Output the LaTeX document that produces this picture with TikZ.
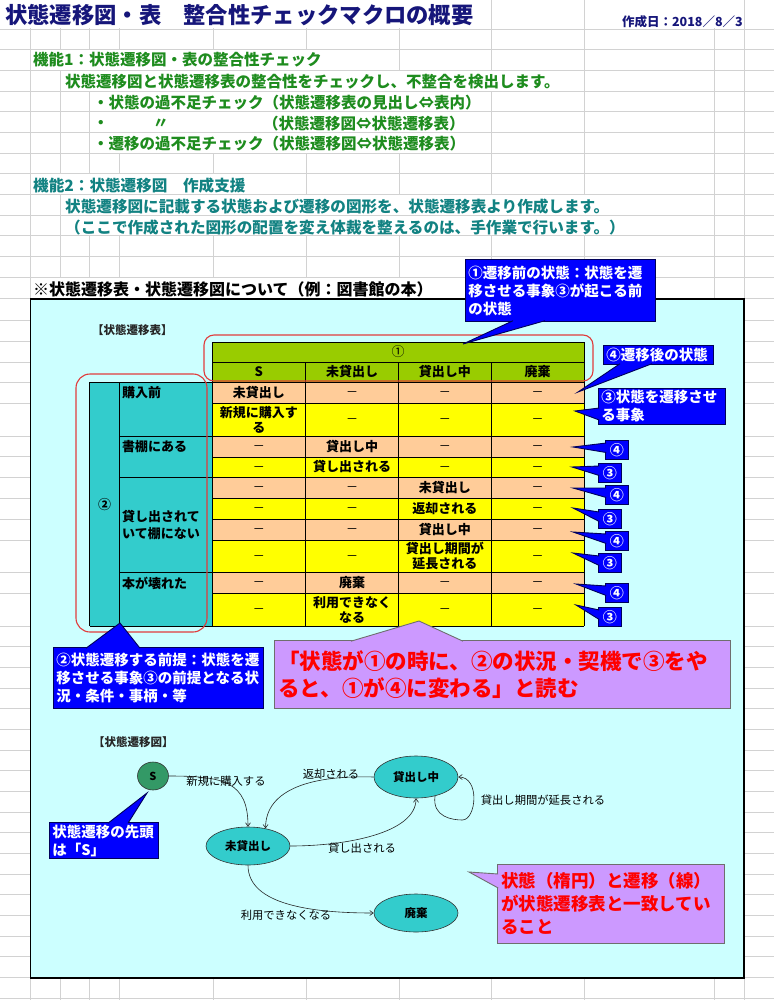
\documentclass[tikz,border=0pt]{standalone}
\usepackage{fontspec}
\setmainfont{Noto Sans CJK JP}
\usetikzlibrary{arrows.meta,calc,shapes.geometric}
\definecolor{gridc}{HTML}{D2D2D2}
\definecolor{titleblue}{HTML}{16167A}
\definecolor{fgreen}{HTML}{1E8C1E}
\definecolor{fteal}{HTML}{128282}
\definecolor{panel}{HTML}{CCFFFF}
\definecolor{hgreen}{HTML}{99CC00}
\definecolor{tteal}{HTML}{33CCCC}
\definecolor{salmon}{HTML}{FFCC99}
\definecolor{cyel}{HTML}{FFFF00}
\definecolor{cblue}{HTML}{0000FF}
\definecolor{cnavy}{HTML}{00005A}
\definecolor{cpurple}{HTML}{CC99FF}
\definecolor{pborder}{HTML}{6E6E6E}
\definecolor{cred}{HTML}{FF0000}
\definecolor{sgreen}{HTML}{339966}
\definecolor{rrect}{HTML}{E03C3C}
\newcommand{\fsz}[2]{\fontsize{#1}{#2}\selectfont}
\begin{document}
\begin{tikzpicture}[x=1pt,y=-1pt,
 gline/.style={draw=gridc,line width=0.9pt},
 gtxt/.style={anchor=west,inner sep=0pt,text=fgreen,font=\bfseries\fsz{15.5}{18}},
 ttxt/.style={anchor=west,inner sep=0pt,text=fteal,font=\bfseries\fsz{15.6}{18}},
 cell/.style={inner sep=0pt,align=center,font=\bfseries\fsz{13}{15}},
 dashc/.style={inner sep=0pt,anchor=base,yshift=-4.3pt,font=\fsz{12}{14}},
 lab/.style={anchor=west,inner sep=0pt,align=left,font=\bfseries\fsz{13}{17}},
 tline/.style={draw=black,line width=0.8pt},
 bco/.style={anchor=north west,fill=cblue,draw=cnavy,line width=0.9pt,text=white,font=\bfseries\fsz{14.5}{18},inner xsep=3pt,inner ysep=1pt,align=left},
 bsm/.style={anchor=north west,fill=cblue,draw=cnavy,line width=0.9pt,text=white,font=\bfseries\fsz{14}{16},inner sep=0pt,minimum width=23pt,minimum height=19pt,align=center},
 bptr/.style={fill=cblue,draw=cnavy,line width=0.9pt},
 pco/.style={anchor=north west,fill=cpurple,draw=pborder,line width=0.9pt,text=cred,align=left,inner sep=4pt},
 pptr/.style={fill=cpurple,draw=pborder,line width=0.9pt},
 state/.style={ellipse,draw=black!80,line width=0.6pt,fill=tteal,minimum width=84pt,minimum height=40pt,inner sep=0pt,font=\bfseries\fsz{11.5}{13}},
 elbl/.style={inner sep=0pt,font=\fsz{11.3}{13}},
 arr/.style={draw=black!85,line width=0.6pt,-{Straight Barb[length=3.5pt,width=5pt]}},
 rbox/.style={draw=rrect,line width=1.1pt},
 seclbl/.style={anchor=west,inner sep=0pt,text=black!85,font=\bfseries\fsz{11.5}{13}}
]
\useasboundingbox (0,0) rectangle (774,1000);
\fill[white] (0,0) rectangle (774,1000);

% ---------- spreadsheet grid ----------
\foreach \x in {30.5,60.2,89.8,119.4,213,306,399,491.5,584.5,714.5,744}
  \draw[gline] (\x,0) -- (\x,1000);
\foreach \y in {29,49.7,70.4,91.1,111.8,132.5,153.1,173.8,194.5,215.2,235.9,256.6,277.3,298,
  320,341,362,382.5,403,436,456.7,477.3,498,519,540,572.3,593,626,646.5,667,688,708.5,729,
  750,770.5,791,812,832.5,853,874,894.5,915,936,956.5,977.5,998}
  \draw[gline] (0,\y) -- (774,\y);
% text overflowing cells hides the grid lines beneath it
\foreach \xa/\xb/\ya/\yb in {0/491/0/28.5, 585/743.5/0/28.5, 31/398.5/50.2/69.9,
  60.7/584/70.9/90.6, 90.3/491/91.6/111.3, 90.3/491/112.3/132, 90.3/491/133/152.6,
  31/305.5/174.3/194, 60.7/714/195/214.7, 60.7/714/215.7/235.4, 31/491/277.8/297.5}
  \fill[white] (\xa,\ya) rectangle (\xb,\yb);

% ---------- header texts ----------
\node[anchor=west,inner sep=0pt,text=titleblue,font=\bfseries\fsz{22.3}{24}] (title) at (5,15)
  {状態遷移図・表　整合性チェックマクロの概要};
\node[anchor=east,inner sep=0pt,text=titleblue,font=\bfseries\fsz{12.5}{14}] (date) at (743,22)
  {作成日：2018／8／3};

\node[gtxt] (f1)  at (33,60)  {機能1：状態遷移図・表の整合性チェック};
\node[gtxt] (f1a) at (65,82)  {状態遷移図と状態遷移表の整合性をチェックし、不整合を検出します。};
\node[gtxt] (f1b) at (93,103) {・状態の過不足チェック（状態遷移表の見出し⇔表内）};
\node[gtxt] (f1c) at (93,124) {・};
\node[gtxt] (f1d) at (153,124) {〃};
\node[gtxt] (f1e) at (263,124) {（状態遷移図⇔状態遷移表）};
\node[gtxt] (f1f) at (93,144) {・遷移の過不足チェック（状態遷移図⇔状態遷移表）};

\node[ttxt] (f2)  at (33,186) {機能2：状態遷移図　作成支援};
\node[ttxt] (f2a) at (65,207) {状態遷移図に記載する状態および遷移の図形を、状態遷移表より作成します。};
\node[ttxt] (f2b) at (65,228) {（ここで作成された図形の配置を変え体裁を整えるのは、手作業で行います。）};

\node[anchor=west,inner sep=0pt,font=\bfseries\fsz{16}{18}] (sec) at (33,289)
  {※状態遷移表・状態遷移図について（例：図書館の本）};

% ---------- panel ----------
\draw[black,line width=1.4pt,fill=panel] (30.5,299) rectangle (744,978);

\node[seclbl] (tlbl) at (92,330) {【状態遷移表】};
\node[seclbl] (dlbl) at (93,742) {【状態遷移図】};

% ---------- table ----------
\fill[hgreen] (212,342) rectangle (584,382);
\fill[tteal] (89.5,382) rectangle (212,626);
\foreach \ya/\yb/\col in {382/403/salmon, 403/436/cyel, 436/457/salmon, 457/477/cyel,
  477/498/salmon, 498/519/cyel, 519/540/salmon, 540/572/cyel, 572/593/salmon, 593/626/cyel}
  \fill[\col] (212,\ya) rectangle (584,\yb);
\foreach \y in {342,362,382,403,436,457,477,498,519,540,572,593,626}
  \draw[tline] (212,\y) -- (584,\y);
\draw[tline] (89.5,382) -- (212,382);
\draw[tline] (89.5,626) -- (212,626);
\foreach \y in {436,477,572} \draw[tline] (119.5,\y) -- (212,\y);
\draw[tline] (89.5,382) -- (89.5,626);
\draw[tline] (119.5,382) -- (119.5,626);
\draw[tline] (212,342) -- (212,626);
\draw[tline] (584,342) -- (584,626);
\foreach \x in {305.5,398.5,491} \draw[tline] (\x,362) -- (\x,626);

\node[inner sep=0pt,font=\fsz{13}{15}] (h0) at (398,352) {①};
\node[cell] (hS) at (258.75,372) {S};
\node[cell] (hA) at (352,372) {未貸出し};
\node[cell] (hB) at (444.75,372) {貸出し中};
\node[cell] (hC) at (537.5,372) {廃棄};

% cells with words
\node[cell] (c1-a)  at (258.75,392.5) {未貸出し};
\node[cell] (c2-a)  at (258.75,419.5) {新規に購入す\\る};
\node[cell] (c3-b)  at (352,446.5)    {貸出し中};
\node[cell] (c4-b)  at (352,467)      {貸し出される};
\node[cell] (c5-c)  at (444.75,487.5) {未貸出し};
\node[cell] (c6-c)  at (444.75,508.5) {返却される};
\node[cell] (c7-c)  at (444.75,529.5) {貸出し中};
\node[cell] (c8-c)  at (444.75,556)   {貸出し期間が\\延長される};
\node[cell] (c9-b)  at (352,582.5)    {廃棄};
\node[cell] (c10-b) at (352,609.5)    {利用できなく\\なる};
% cells with a dash
\foreach \r/\yc/\xa/\xb/\xc in {
  1/392.5/352/444.75/537.5, 2/419.5/352/444.75/537.5,
  3/446.5/258.75/444.75/537.5, 4/467/258.75/444.75/537.5,
  5/487.5/258.75/352/537.5, 6/508.5/258.75/352/537.5,
  7/529.5/258.75/352/537.5, 8/556/258.75/352/537.5,
  9/582.5/258.75/444.75/537.5, 10/609.5/258.75/444.75/537.5}{
  \node[dashc] (d\r-1) at (\xa,\yc) {－};
  \node[dashc] (d\r-2) at (\xb,\yc) {－};
  \node[dashc] (d\r-3) at (\xc,\yc) {－};
}

\node[cell] (g0) at (104.5,505) {②};
\node[lab] (g1) at (122,393) {購入前};
\node[lab] (g2) at (122,446.5) {書棚にある};
\node[lab] (g3) at (122,525.5) {貸し出されて\\いて棚にない};
\node[lab] (g4) at (122,583) {本が壊れた};

% red marks
\draw[rbox,rounded corners=10pt] (204,335) rectangle (593,381);
\draw[rbox,rounded corners=14pt] (76,374) rectangle (207,632);

% ---------- callouts around the table ----------
\node[bco,minimum width=190pt,minimum height=62pt,text width=184pt] (c1) at (465,259)
  {①遷移前の状態：状態を遷\\移させる事象③が起こる前\\の状態};
\coordinate (t1) at (463,344);
\filldraw[bptr] ($(c1.south west)+(48,-1.2)$) -- (t1) -- ($(c1.south west)+(80,-1.2)$);

\node[bco,minimum width=110pt,minimum height=19pt,text width=104pt] (c4) at (603,345) {④遷移後の状態};
\coordinate (t4) at (578,392);
\filldraw[bptr] ($(c4.south west)+(17,-1.2)$) -- (t4) -- ($(c4.south west)+(49,-1.2)$);

\node[bco,minimum width=127pt,minimum height=36pt,text width=121pt] (c3) at (598,388) {③状態を遷移させ\\る事象};
\coordinate (t3) at (575,411);
\filldraw[bptr] ($(c3.north west)+(1.2,20)$) -- (t3) -- ($(c3.north west)+(1.2,32)$);

\foreach \n/\lbl/\bx/\by/\tx/\ty in {
  s1/④/605/440/573/447, s2/③/598/463/572/467,
  s3/④/605/485/573/488, s4/③/598/509/573/508,
  s5/④/605/531/573/532, s6/③/598/553/573/553,
  s7/④/605/583/576/584, s8/③/598/607/576/605}{
  \node[bsm] (\n) at (\bx,\by) {\lbl};
  \coordinate (\n-tip) at (\tx,\ty);
  \filldraw[bptr] ($(\n.north west)+(1.2,3)$) -- (\n-tip) -- ($(\n.north west)+(1.2,12.5)$);
}

\node[bco,minimum width=210pt,minimum height=61pt,text width=204pt] (c2) at (53,647)
  {②状態遷移する前提：状態を遷\\移させる事象③の前提となる状\\況・条件・事柄・等};
\coordinate (t2) at (120,623);
\filldraw[bptr] ($(c2.north west)+(33,1.2)$) -- (t2) -- ($(c2.north west)+(87,1.2)$);

\node[pco,minimum width=456pt,minimum height=68pt,text width=448pt,font=\bfseries\fsz{21.5}{27}] (pb) at (274,640)
  {「状態が①の時に、②の状況・契機で③をや\\ると、①が④に変わる」と読む};
\coordinate (tp) at (419,621);
\filldraw[pptr] ($(pb.north west)+(77,1.2)$) -- (tp) -- ($(pb.north west)+(189,1.2)$);

% ---------- state transition diagram ----------
\node[state,minimum height=38pt] (mk) at (248,846) {未貸出し};
\node[state,minimum height=42pt] (kc) at (416,777) {貸出し中};
\node[state,minimum height=38pt] (hk) at (416,913) {廃棄};
\node[ellipse,draw=black!80,line width=0.6pt,fill=sgreen,minimum width=31pt,minimum height=28pt,inner sep=0pt,font=\bfseries\fsz{11}{12}] (S) at (153,776) {S};

\draw[arr] (S.east) .. controls +(55,0) and +(0,-45) .. (mk.north);
\draw[arr] (kc.west) .. controls +(-60,-2) and +(0,-40) .. (mk.45);
\draw[arr] (mk.east) .. controls +(55,0) and +(0,35) .. (kc.south);
\draw[arr] (kc.-45) .. controls +(-3,21) and +(-10,0) .. ($(kc.east)+(4,43)$)
  .. controls +(14,0) and +(22,0) .. (kc.east);
\draw[arr] (mk.south) .. controls +(0,40) and +(-60,0) .. (hk.west);

\node[elbl] (l1) at (226,781) {新規に購入する};
\node[elbl] (l2) at (331,774) {返却される};
\node[elbl] (l3) at (362,848) {貸し出される};
\node[elbl] (l4) at (543,800) {貸出し期間が延長される};
\node[elbl] (l5) at (286,915) {利用できなくなる};

\node[bco,minimum width=109pt,minimum height=36pt,text width=103pt] (cS) at (49,822)
  {状態遷移の先頭\\は「S」};
\coordinate (tS) at (147,793);
\filldraw[bptr] ($(cS.north west)+(59,1.2)$) -- (tS) -- ($(cS.north west)+(79,1.2)$);

\node[pco,minimum width=227pt,minimum height=79pt,text width=219pt,font=\bfseries\fsz{17.5}{23}] (pq) at (497,864)
  {状態（楕円）と遷移（線）\\が状態遷移表と一致してい\\ること};
\coordinate (tq) at (469,872);
\filldraw[pptr] ($(pq.north west)+(1.2,10)$) -- (tq) -- ($(pq.north west)+(1.2,24)$);
\end{tikzpicture}
\end{document}
